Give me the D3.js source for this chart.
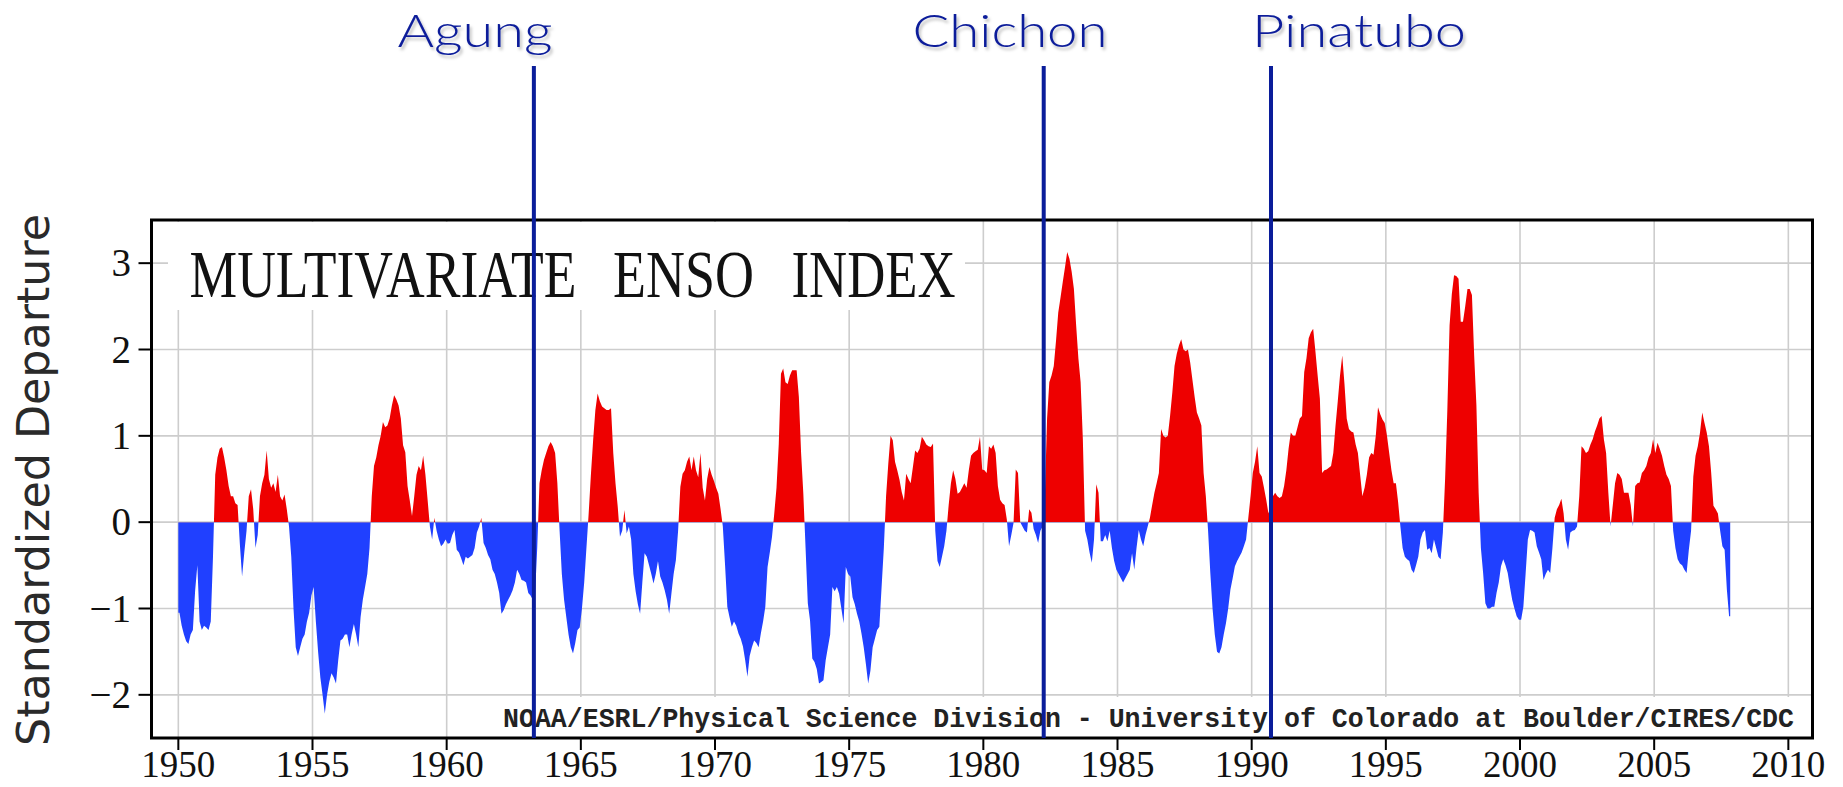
<!DOCTYPE html>
<html lang="en">
<head>
<meta charset="UTF-8" />
<title>Multivariate ENSO Index</title>
<script src="https://d3js.org/d3.v7.min.js"></script>
<style>
  html, body { margin: 0; padding: 0; background: #fff; }
  svg { display: block; }
</style>
</head>
<body>
<svg width="1843" height="787"></svg>
<script>
// monthly MEI values, Jan..Dec per year
const startYear = 1950;
const mei1950s = [
  -1.05, -1.2, -1.3, -1.38, -1.41, -1.3, -1.25, -0.8, -0.5, -1.15, -1.25, -1.2,
  -1.22, -1.25, -1.15, -0.4, 0.55, 0.75, 0.85, 0.87, 0.75, 0.6, 0.42, 0.3,
  0.3, 0.22, 0.2, -0.25, -0.63, -0.35, -0.1, 0.3, 0.38, 0.15, -0.3, -0.15,
  0.3, 0.45, 0.55, 0.83, 0.5, 0.4, 0.45, 0.35, 0.55, 0.3, 0.25, 0.32,
  0.15, -0.05, -0.4, -1.0, -1.45, -1.55, -1.45, -1.35, -1.3, -1.15, -1.05, -0.85,
  -0.75, -1.15, -1.5, -1.8, -2.0, -2.22, -2.0, -1.85, -1.75, -1.8, -1.87, -1.6,
  -1.37, -1.35, -1.3, -1.3, -1.45, -1.3, -1.18, -1.3, -1.45, -1.1, -0.9, -0.75,
  -0.6, -0.3, 0.3, 0.65, 0.75, 0.89, 1.0, 1.16, 1.1, 1.12, 1.2, 1.35,
  1.47, 1.42, 1.35, 1.2, 0.89, 0.81, 0.42, 0.25, 0.07, 0.3, 0.55, 0.65,
  0.6, 0.77, 0.55, 0.25, -0.05, -0.2, 0.05, -0.1, -0.2, -0.28, -0.25, -0.2
];
const mei1960s = [
  -0.25, -0.24, -0.15, -0.09, -0.32, -0.35, -0.42, -0.5, -0.4, -0.42, -0.4, -0.38,
  -0.3, -0.12, -0.05, 0.05, -0.24, -0.3, -0.38, -0.43, -0.55, -0.6, -0.7, -0.82,
  -1.06, -1.02, -0.95, -0.9, -0.85, -0.79, -0.7, -0.55, -0.6, -0.67, -0.68, -0.7,
  -0.82, -0.85, -0.9, -0.85, -0.3, 0.45, 0.6, 0.72, 0.8, 0.88, 0.93, 0.88,
  0.8, 0.45, -0.1, -0.6, -0.9, -1.1, -1.3, -1.45, -1.52, -1.4, -1.25, -1.22,
  -1.0, -0.7, -0.3, 0.1, 0.55, 0.95, 1.3, 1.49, 1.4, 1.34, 1.32, 1.3,
  1.3, 1.32, 0.8, 0.45, 0.18, -0.17, -0.1, 0.14, -0.13, -0.05, -0.2, -0.6,
  -0.8, -0.95, -1.06, -0.7, -0.36, -0.4, -0.5, -0.6, -0.71, -0.6, -0.45, -0.63,
  -0.7, -0.79, -0.9, -1.06, -0.83, -0.6, -0.44, -0.1, 0.41, 0.56, 0.6, 0.7,
  0.76, 0.6, 0.76, 0.6, 0.52, 0.8, 0.4, 0.25, 0.5, 0.64, 0.55, 0.48
];
const mei1970s = [
  0.4, 0.33, 0.15, -0.05, -0.5, -0.98, -1.1, -1.21, -1.15, -1.2, -1.29, -1.35,
  -1.44, -1.6, -1.79, -1.55, -1.45, -1.37, -1.4, -1.45, -1.29, -1.15, -0.98, -0.52,
  -0.35, -0.17, 0.1, 0.4, 0.9, 1.72, 1.78, 1.62, 1.6, 1.7, 1.76, 1.76,
  1.76, 1.45, 0.8, 0.33, -0.3, -0.94, -1.14, -1.58, -1.62, -1.7, -1.87, -1.85,
  -1.83, -1.6, -1.45, -1.3, -0.75, -0.8, -0.75, -0.83, -1.0, -1.17, -0.52, -0.6,
  -0.63, -0.87, -0.95, -1.06, -1.15, -1.29, -1.45, -1.65, -1.87, -1.72, -1.45, -1.35,
  -1.25, -1.21, -0.75, -0.3, 0.3, 0.68, 1.0, 0.95, 0.7, 0.6, 0.49, 0.35,
  0.25, 0.56, 0.5, 0.45, 0.64, 0.83, 0.8, 0.85, 0.99, 0.95, 0.9, 0.88,
  0.87, 0.91, -0.1, -0.45, -0.52, -0.4, -0.28, -0.1, 0.2, 0.45, 0.6, 0.5,
  0.33, 0.35, 0.4, 0.45, 0.4, 0.6, 0.77, 0.8, 0.82, 0.84, 0.99, 0.61
];
const mei1980s = [
  0.6, 0.57, 0.88, 0.85, 0.9, 0.8, 0.42, 0.26, 0.22, 0.2, 0.03, -0.28,
  -0.15, -0.01, 0.61, 0.57, 0.0, -0.05, -0.1, -0.12, 0.15, 0.11, -0.08, -0.15,
  -0.24, -0.1, -0.05, 0.3, 1.2, 1.62, 1.7, 1.81, 2.1, 2.43, 2.6, 2.78,
  2.95, 3.13, 3.05, 2.9, 2.7, 2.28, 1.9, 1.62, 0.96, -0.1, -0.2, -0.35,
  -0.47, -0.2, 0.44, 0.34, -0.22, -0.22, -0.15, -0.22, -0.1, -0.3, -0.45, -0.55,
  -0.6, -0.65, -0.7, -0.65, -0.6, -0.55, -0.36, -0.55, -0.3, -0.09, -0.2, -0.28,
  -0.15, -0.05, 0.05, 0.2, 0.34, 0.45, 0.57, 1.08, 1.0, 0.98, 1.0, 1.23,
  1.5, 1.81, 1.95, 2.05, 2.12, 2.0, 1.98, 2.0, 1.85, 1.65, 1.45, 1.27,
  1.2, 1.12, 0.57, 0.3, -0.1, -0.59, -1.0, -1.3, -1.5, -1.52, -1.45, -1.3,
  -1.17, -1.0, -0.78, -0.65, -0.51, -0.45, -0.4, -0.35, -0.28, -0.2, 0.05, 0.3
];
const mei1990s = [
  0.57, 0.7, 0.88, 0.57, 0.53, 0.4, 0.26, 0.1, 0.2, 0.3, 0.34, 0.3,
  0.28, 0.3, 0.42, 0.6, 0.85, 1.04, 1.0, 1.0, 1.1, 1.2, 1.23, 1.74,
  1.9, 2.13, 2.2, 2.24, 1.98, 1.7, 1.43, 0.57, 0.6, 0.61, 0.63, 0.65,
  0.8, 1.12, 1.4, 1.7, 1.93, 1.6, 1.2, 1.08, 1.05, 1.04, 0.9, 0.8,
  0.55, 0.3, 0.4, 0.55, 0.75, 0.8, 0.78, 1.0, 1.33, 1.25, 1.19, 1.15,
  1.0, 0.8, 0.6, 0.45, 0.45, 0.23, -0.05, -0.3, -0.4, -0.43, -0.45, -0.55,
  -0.59, -0.5, -0.4, -0.2, -0.12, -0.09, -0.32, -0.3, -0.36, -0.2, -0.3, -0.4,
  -0.43, -0.12, 0.5, 1.3, 2.28, 2.64, 2.86, 2.85, 2.82, 2.32, 2.32, 2.5,
  2.7, 2.7, 2.63, 1.93, 1.35, 0.34, -0.3, -0.59, -0.94, -1.0, -1.0, -0.98,
  -0.98, -0.82, -0.7, -0.51, -0.43, -0.5, -0.59, -0.75, -0.9, -1.0, -1.09, -1.13
];
const mei2000s = [
  -1.13, -0.98, -0.6, -0.2, -0.09, -0.1, -0.12, -0.28, -0.35, -0.43, -0.67, -0.6,
  -0.55, -0.59, -0.3, 0.05, 0.15, 0.2, 0.27, 0.1, -0.2, -0.32, -0.12, -0.1,
  -0.09, -0.05, 0.3, 0.88, 0.85, 0.8, 0.82, 0.9, 0.96, 1.05, 1.12, 1.2,
  1.23, 0.96, 0.8, 0.34, -0.05, 0.2, 0.45, 0.57, 0.55, 0.5, 0.34, 0.34,
  0.34, 0.2, -0.05, 0.42, 0.45, 0.46, 0.57, 0.6, 0.65, 0.75, 0.8, 0.96,
  0.8, 0.92, 0.85, 0.77, 0.65, 0.55, 0.5, 0.42, -0.1, -0.3, -0.43, -0.48,
  -0.5, -0.55, -0.59, -0.32, -0.1, 0.53, 0.77, 0.88, 1.04, 1.27, 1.15, 1.04,
  0.88, 0.57, 0.19, 0.15, 0.1, -0.1, -0.28, -0.32, -0.78, -1.09
];

const volcanoNames = ["Agung", "Chichon", "Pinatubo"];
const volcanoYears = [1963.25, 1982.25, 1990.72];

const xTickYears = [1950, 1955, 1960, 1965, 1970, 1975, 1980, 1985, 1990, 1995, 2000, 2005, 2010];
const yTickValues = [-2, -1, 0, 1, 2, 3];

const titleWords = ["MULTIVARIATE", "ENSO", "INDEX"];
const creditText = "NOAA/ESRL/Physical Science Division - University of Colorado at Boulder/CIRES/CDC";
const yAxisTitle = "Standardized Departure";

// ---------------------------------------------------------------
const mei = [].concat(mei1950s, mei1960s, mei1970s, mei1980s, mei1990s, mei2000s);

const svg = d3.select("svg");

const plotLeft = 151.5, plotRight = 1812.5, plotTop = 220, plotBottom = 738;

let x = d3.scaleLinear().domain([1949, 2010.9]).range([plotLeft, plotRight]);
let y = d3.scaleLinear().domain([-2.5, 3.5]).range([plotBottom, plotTop]);

const RED = "#ee0000", BLUE = "#2040ff", NAVY = "#0a1d9a";

// white background
svg.append("rect").attr("x", 0).attr("y", 0).attr("width", 1843).attr("height", 787).attr("fill", "#fff");

// grid
let grid = svg.append("g").attr("stroke", "#cdcdcd").attr("stroke-width", 1.6);
grid.selectAll("line.v").data(xTickYears).enter().append("line").attr("class", "v")
  .attr("x1", d => x(d)).attr("x2", d => x(d))
  .attr("y1", plotTop).attr("y2", plotBottom);
grid.selectAll("line.h").data(yTickValues).enter().append("line").attr("class", "h")
  .attr("x1", plotLeft).attr("x2", plotRight)
  .attr("y1", d => y(d)).attr("y2", d => y(d));

// series points at mid-month, plus flat ends
let pts = mei.map((v, i) => ({ t: startYear + (i + 0.5) / 12, v: v }));
pts.unshift({ t: startYear, v: mei[0] });
pts.push({ t: startYear + mei.length / 12, v: mei[mei.length - 1] });

let defs = svg.append("defs");
defs.append("clipPath").attr("id", "above").append("rect")
  .attr("x", plotLeft).attr("y", plotTop).attr("width", plotRight - plotLeft).attr("height", y(0) - plotTop);
defs.append("clipPath").attr("id", "below").append("rect")
  .attr("x", plotLeft).attr("y", y(0)).attr("width", plotRight - plotLeft).attr("height", plotBottom - y(0));

let shadow = defs.append("filter").attr("id", "shadow")
  .attr("x", "-20%").attr("y", "-40%").attr("width", "140%").attr("height", "180%");
shadow.append("feDropShadow").attr("dx", 2).attr("dy", 3).attr("stdDeviation", 1.8)
  .attr("flood-color", "#000").attr("flood-opacity", 0.25);

let area = d3.area()
  .x(d => x(d.t))
  .y0(y(0))
  .y1(d => y(d.v));

svg.append("path").datum(pts).attr("d", area).attr("fill", RED).attr("clip-path", "url(#above)");
svg.append("path").datum(pts).attr("d", area).attr("fill", BLUE).attr("clip-path", "url(#below)");

// title with white backing, one text per word, stretched tall like the original
svg.append("rect").attr("x", 168).attr("y", plotTop + 2).attr("width", 797).attr("height", 88).attr("fill", "#fff");
const wordLeft = [189.5, 613, 791.5];
const wordWidth = [387, 141, 164];
svg.append("g").selectAll("text").data(titleWords).enter().append("text")
  .attr("transform", (d, i) => `translate(${wordLeft[i]},297) scale(1,1.33)`)
  .attr("font-family", "'Liberation Serif', 'DejaVu Serif', serif")
  .attr("font-size", 51)
  .attr("textLength", (d, i) => wordWidth[i]).attr("lengthAdjust", "spacingAndGlyphs")
  .attr("fill", "#111")
  .text(d => d);

// credit line with white backing
svg.append("rect").attr("x", 495).attr("y", 697).attr("width", plotRight - 495 - 2).attr("height", plotBottom - 697 - 1).attr("fill", "#fff");
svg.append("text")
  .attr("x", 503).attr("y", 727)
  .attr("font-family", "'Liberation Mono', 'DejaVu Sans Mono', monospace")
  .attr("font-weight", "bold")
  .attr("font-size", 27)
  .attr("textLength", 1291).attr("lengthAdjust", "spacingAndGlyphs")
  .attr("fill", "#222")
  .text(creditText);

// frame
svg.append("rect")
  .attr("x", plotLeft).attr("y", plotTop).attr("width", plotRight - plotLeft).attr("height", plotBottom - plotTop)
  .attr("fill", "none").attr("stroke", "#000").attr("stroke-width", 3);

// ticks and labels
let axisFont = "'Liberation Serif', 'DejaVu Serif', serif";
let xa = svg.append("g");
xa.selectAll("line").data(xTickYears).enter().append("line")
  .attr("x1", d => x(d)).attr("x2", d => x(d))
  .attr("y1", plotBottom).attr("y2", plotBottom + 12)
  .attr("stroke", "#000").attr("stroke-width", 2);
xa.selectAll("text").data(xTickYears).enter().append("text")
  .attr("x", d => x(d)).attr("y", 777)
  .attr("text-anchor", "middle")
  .attr("font-family", axisFont).attr("font-size", 37).attr("fill", "#111")
  .text(d => d);

let ya = svg.append("g");
ya.selectAll("line").data(yTickValues).enter().append("line")
  .attr("x1", plotLeft - 13).attr("x2", plotLeft)
  .attr("y1", d => y(d)).attr("y2", d => y(d))
  .attr("stroke", "#000").attr("stroke-width", 2);
ya.selectAll("text").data(yTickValues).enter().append("text")
  .attr("x", 131).attr("y", d => y(d)).attr("dy", "0.34em")
  .attr("text-anchor", "end")
  .attr("font-family", axisFont).attr("font-size", 39).attr("fill", "#111")
  .text(d => (d < 0 ? "\u2212" + Math.abs(d) : d));

svg.append("text")
  .attr("transform", "translate(49,480) rotate(-90)")
  .attr("text-anchor", "middle")
  .attr("font-family", "'DejaVu Sans', Verdana, sans-serif")
  .attr("font-size", 45)
  .attr("textLength", 532).attr("lengthAdjust", "spacingAndGlyphs")
  .attr("fill", "#2a2a2a")
  .text(yAxisTitle);

// volcano markers
let vg = svg.append("g");
vg.selectAll("line").data(volcanoYears).enter().append("line")
  .attr("x1", d => x(d)).attr("x2", d => x(d))
  .attr("y1", 66).attr("y2", plotBottom)
  .attr("stroke", NAVY).attr("stroke-width", 4);

const labelCenters = [475, 1010, 1359];
const labelWidths = [155, 195, 214];
vg.selectAll("text").data(volcanoNames).enter().append("text")
  .attr("x", (d, i) => labelCenters[i] - labelWidths[i] / 2)
  .attr("y", 47)
  .attr("font-family", "Lato, 'Noto Sans', sans-serif")
  .attr("font-weight", 300)
  .attr("font-size", 46)
  .attr("textLength", (d, i) => labelWidths[i]).attr("lengthAdjust", "spacingAndGlyphs")
  .attr("fill", NAVY)
  .attr("filter", "url(#shadow)")
  .text(d => d);
</script>
</body>
</html>
